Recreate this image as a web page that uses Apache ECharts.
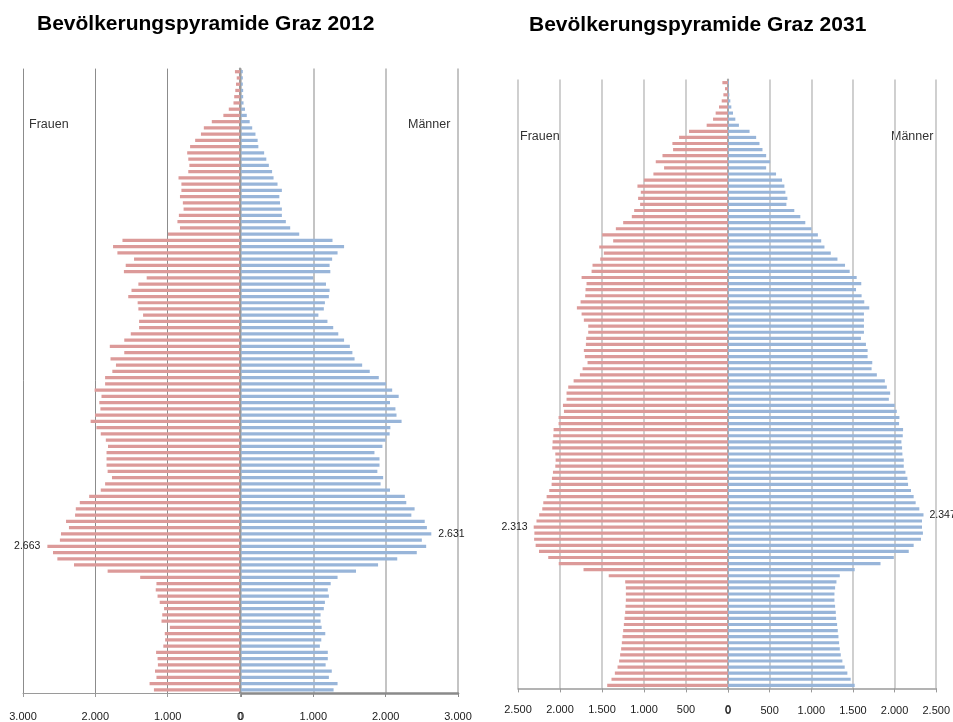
<!DOCTYPE html>
<html>
<head>
<meta charset="utf-8">
<script src="https://cdn.jsdelivr.net/npm/echarts@6/dist/echarts.min.js"></script>
<style>
html,body{margin:0;padding:0;background:#fff;}
#c{width:953px;height:722px;}
</style>
</head>
<body>
<div id="c"></div>
<script>
// Values listed from the oldest age (top row) down to age 0 (bottom row)
const frauen2012 = [70,45,55,65,80,90,155,230,390,500,
540,620,690,730,715,700,715,850,810,810,
830,790,780,845,865,830,995,1625,1755,1695,
1465,1580,1605,1290,1405,1500,1545,1415,1405,1340,
1395,1395,1510,1600,1800,1600,1790,1715,1765,1865,
1865,2010,1915,1945,1930,2005,2065,1985,1925,1855,
1825,1845,1845,1845,1830,1770,1865,1925,2085,2215,
2270,2280,2405,2365,2475,2490,2663,2585,2525,2295,
1830,1380,1155,1165,1140,1110,1050,1075,1085,970,
1040,1035,1060,1160,1140,1135,1175,1155,1250,1190];

const maenner2012 = [25,25,25,30,30,35,55,80,120,155,
200,230,240,320,350,385,430,450,505,565,
530,540,565,565,620,680,805,1265,1425,1335,
1260,1225,1235,1000,1175,1225,1215,1160,1145,1070,
1195,1275,1345,1425,1505,1540,1570,1675,1780,1905,
2005,2090,2180,2060,2135,2150,2220,2065,2055,2000,
1955,1845,1915,1915,1885,1965,1930,2060,2265,2285,
2400,2355,2540,2570,2631,2500,2560,2430,2160,1895,
1590,1335,1240,1200,1215,1160,1145,1100,1100,1115,
1165,1110,1090,1200,1200,1170,1255,1215,1335,1280];

const frauen2031 = [67,36,55,75,107,147,178,254,464,582,
662,654,780,860,761,888,1002,1078,1038,1070,
1046,1117,1145,1248,1335,1498,1367,1533,1478,1521,
1613,1624,1743,1684,1696,1700,1755,1799,1743,1716,
1664,1664,1688,1692,1716,1704,1672,1731,1763,1838,
1902,1922,1922,1965,1953,2017,2017,2076,2080,2088,
2092,2056,2052,2056,2084,2096,2100,2128,2159,2199,
2211,2248,2280,2313,2305,2308,2290,2250,2140,2015,
1720,1420,1224,1216,1216,1216,1220,1224,1232,1240,
1248,1256,1264,1272,1284,1296,1315,1347,1387,1438];

const maenner2031 = [12,12,16,28,40,60,88,131,259,338,
378,414,458,506,458,577,649,677,689,713,
701,796,868,928,1003,1079,1119,1158,1234,1314,
1405,1461,1545,1600,1537,1604,1636,1696,1632,1632,
1632,1632,1596,1656,1676,1676,1732,1724,1787,1883,
1907,1947,1931,2002,2026,2058,2054,2102,2098,2082,
2090,2094,2110,2110,2130,2154,2162,2197,2229,2253,
2297,2347,2329,2329,2340,2317,2229,2170,1991,1831,
1521,1342,1302,1286,1278,1278,1286,1294,1298,1310,
1318,1326,1334,1342,1354,1373,1401,1433,1473,1521];

const titles = ['Bevölkerungspyramide Graz 2012', 'Bevölkerungspyramide Graz 2031'];
const sideNames = ['Frauen', 'Männer'];
const axisMax = [3000, 2500];
const axisStep = [1000, 500];

const ages = frauen2012.map((_, i) => String(frauen2012.length - 1 - i));

function fmt(v) {
  return String(Math.round(v)).replace(/\B(?=(\d{3})+(?!\d))/g, '.');
}
const numFont = "'Liberation Sans Narrow','Liberation Sans',Arial,sans-serif";

function withMaxLabel(arr, pos, dist) {
  let mi = 0;
  arr.forEach((v, i) => { if (v > arr[mi]) mi = i; });
  return arr.map((v, i) => i === mi ? {
    value: v,
    label: { show: true, position: pos, distance: dist, formatter: p => fmt(p.value),
      fontFamily: numFont, fontSize: 10.5, color: '#1a1a1a' }
  } : v);
}

const grids = [
  { left: 23, top: 68.6, width: 217, height: 624.8 },
  { left: 241, top: 68.6, width: 217, height: 624.8 },
  { left: 518, top: 79.6, width: 210, height: 608.8 },
  { left: 728, top: 79.6, width: 210, height: 608.8 }
];

function xAx(idx, chart, female, splitColor, splitW, lineColor, lineW, margin) {
  return {
    type: 'value', gridIndex: idx, min: 0, max: axisMax[chart], interval: axisStep[chart],
    inverse: female,
    axisLine: { show: true, lineStyle: { color: lineColor, width: lineW } },
    axisTick: { show: true, length: 4, lineStyle: { color: lineColor } },
    splitLine: { show: true, lineStyle: { color: splitColor, width: splitW } },
    axisLabel: { formatter: fmt, margin: margin, fontFamily: numFont, fontSize: 11, color: '#1a1a1a' }
  };
}
function yAx(idx, female, showLine, color, w) {
  return {
    type: 'category', gridIndex: idx, data: ages, inverse: true,
    position: female ? 'right' : 'left',
    axisLine: { show: showLine, lineStyle: { color: color, width: w } },
    axisTick: { show: false }, axisLabel: { show: false }, splitLine: { show: false }
  };
}

const red = '#dc9a99', blue = '#98b5d9';
const labelFont = "12.5px 'Liberation Sans', Arial, sans-serif";
const titleFont = "bold 21px 'Liberation Sans', Arial, sans-serif";

const option = {
  animation: false,
  backgroundColor: '#ffffff',
  grid: grids,
  xAxis: [
    xAx(0, 0, true, '#8c8c8c', 1, '#9a9a9a', 1, 18),
    xAx(1, 0, false, '#c4c4c4', 2, '#8a8a8a', 2.5, 18),
    xAx(2, 1, true, '#c4c4c4', 1.6, '#9a9a9a', 1.5, 16),
    xAx(3, 1, false, '#c4c4c4', 1.6, '#9a9a9a', 1.5, 17)
  ],
  yAxis: [
    yAx(0, true, true, '#9a9a9a', 2),
    yAx(1, false, false, '#9a9a9a', 1),
    yAx(2, true, true, '#a8a8a8', 2),
    yAx(3, false, false, '#a8a8a8', 1)
  ],
  series: [
    { type: 'bar', xAxisIndex: 0, yAxisIndex: 0, data: withMaxLabel(frauen2012, 'left', 7),
      barWidth: '52%', itemStyle: { color: red } },
    { type: 'bar', xAxisIndex: 1, yAxisIndex: 1, data: withMaxLabel(maenner2012, 'right', 7),
      barWidth: '52%', itemStyle: { color: blue } },
    { type: 'bar', xAxisIndex: 2, yAxisIndex: 2, data: withMaxLabel(frauen2031, 'left', 6),
      barWidth: '52%', itemStyle: { color: red } },
    { type: 'bar', xAxisIndex: 3, yAxisIndex: 3, data: withMaxLabel(maenner2031, 'right', 6),
      barWidth: '52%', itemStyle: { color: blue } }
  ],
  graphic: [
    { type: 'text', left: 37, top: 13.5, style: { text: titles[0], font: titleFont, fill: '#000' } },
    { type: 'text', left: 529, top: 15, style: { text: titles[1], font: titleFont, fill: '#000' } },
    { type: 'text', left: 29, top: 118, style: { text: sideNames[0], font: labelFont, fill: '#333' } },
    { type: 'text', left: 408, top: 118, style: { text: sideNames[1], font: labelFont, fill: '#333' } },
    { type: 'text', left: 520, top: 130, style: { text: sideNames[0], font: labelFont, fill: '#333' } },
    { type: 'text', left: 891, top: 130, style: { text: sideNames[1], font: labelFont, fill: '#333' } }
  ]
};

const chart = echarts.init(document.getElementById('c'), null, { renderer: 'canvas' });
chart.setOption(option);
</script>
</body>
</html>
